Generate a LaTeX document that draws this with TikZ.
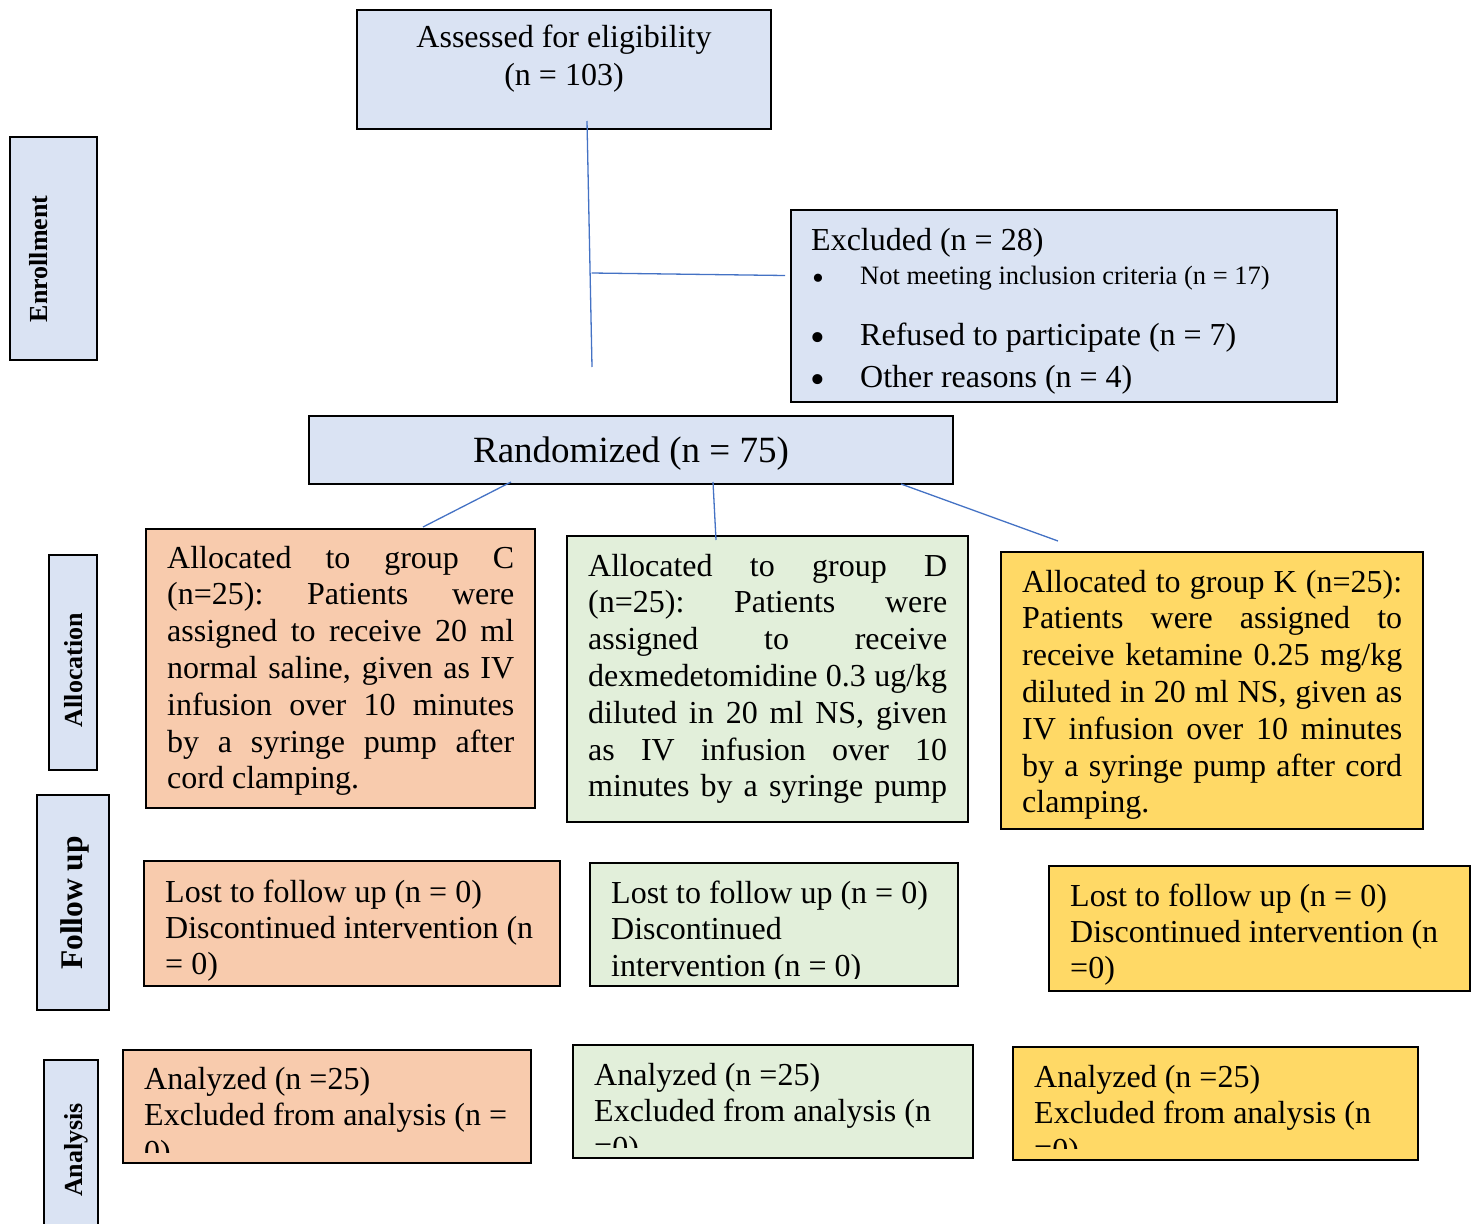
\documentclass[tikz,border=0pt]{standalone}
\usepackage{fontspec}
\setmainfont{Liberation Serif}
\definecolor{bluef}{HTML}{DAE3F3}
\definecolor{orangef}{HTML}{F8CBAD}
\definecolor{greenf}{HTML}{E2EFDA}
\definecolor{goldf}{HTML}{FFD966}
\definecolor{linec}{HTML}{4472C4}
\newcommand\jl[2]{\makebox[#1][s]{\spaceskip=0.25em plus 1fil minus 0.1em\xspaceskip=\spaceskip #2}}
\begin{document}
\begin{tikzpicture}[x=1pt,y=-1pt,
  box/.style={draw=black, line width=1.8pt, inner sep=0pt, outer sep=0pt, anchor=north west},
  conn/.style={draw=linec, line width=1.3pt},
  txt/.style={inner sep=0pt, anchor=base west, align=flush left, text width=430pt, font=\fontsize{32}{36.8}\selectfont},
  ctxt/.style={inner sep=0pt, anchor=base, font=\fontsize{32}{36.8}\selectfont},
  bul/.style={inner sep=0pt, anchor=base, font=\fontsize{42}{44}\selectfont},
  side/.style={inner sep=0pt, rotate=90, anchor=base, font=\fontsize{26}{30}\selectfont\bfseries},
]
\useasboundingbox (0,0) rectangle (1479,1223);

% side boxes
\node[box, fill=bluef, minimum width=87, minimum height=223] (senr) at (10,137) {};
\node[box, fill=bluef, minimum width=48, minimum height=215] (salloc) at (49,555) {};
\node[box, fill=bluef, minimum width=72, minimum height=215] (sfollow) at (37,795) {};
\node[box, fill=bluef, minimum width=54, minimum height=180] (sana) at (44,1060) {};
\node[side] (tenr) at (47,259) {Enrollment};
\node[side] (talloc) at (82,670) {Allocation};
\node[side, font=\fontsize{31.5}{34}\selectfont\bfseries] (tfollow) at (82,903) {Follow up};
\node[side] (tana) at (82,1150) {Analysis};

% enrollment
\node[box, fill=bluef, minimum width=414, minimum height=119] (assess) at (357,10) {};
\node[ctxt] (assess1) at (564,48) {Assessed for eligibility};
\node[ctxt] (assess2) at (564,85) {(n = 103)};

\node[box, fill=bluef, minimum width=546, minimum height=192] (excl) at (791,210) {};
\node[txt] (excl1) at (811,250) {Excluded (n = 28)};
\node[bul, font=\fontsize{34}{36}\selectfont] (b1) at (818,289) {•};
\node[txt, font=\fontsize{26.5}{30}\selectfont] (excl2) at (860,284) {Not meeting inclusion criteria (n = 17)};
\node[bul] (b2) at (818,351) {•};
\node[txt] (excl3) at (860,345) {Refused to participate (n = 7)};
\node[bul] (b3) at (818,393) {•};
\node[txt] (excl4) at (860,387) {Other reasons (n = 4)};

\node[box, fill=bluef, minimum width=644, minimum height=68] (rand) at (309,416) {};
\node[inner sep=0pt, anchor=base, font=\fontsize{37}{40}\selectfont] (randt) at (631,462) {Randomized (n = 75)};

% allocation
\node[box, fill=orangef, minimum width=389, minimum height=279] (gc) at (146,529) {};
\node[txt, text width=347pt] (gct) at (167,568) {\jl{347pt}{Allocated to group C}\\
\jl{347pt}{(n=25): Patients were}\\
\jl{347pt}{assigned to receive 20 ml}\\
\jl{347pt}{normal saline, given as IV}\\
\jl{347pt}{infusion over 10 minutes}\\
\jl{347pt}{by a syringe pump after}\\
cord clamping.};

\node[box, fill=greenf, minimum width=401, minimum height=286] (gd) at (567,536) {};
\node[txt, text width=359pt] (gdt) at (588,576) {\jl{359pt}{Allocated to group D}\\
\jl{359pt}{(n=25): Patients were}\\
\jl{359pt}{assigned to receive}\\
\jl{359pt}{dexmedetomidine 0.3 ug/kg}\\
\jl{359pt}{diluted in 20 ml NS, given}\\
\jl{359pt}{as IV infusion over 10}\\
\jl{359pt}{minutes by a syringe pump}};

\node[box, fill=goldf, minimum width=422, minimum height=277] (gk) at (1001,552) {};
\node[txt, text width=380pt] (gkt) at (1022,592) {\jl{380pt}{Allocated to group K (n=25):}\\
\jl{380pt}{Patients were assigned to}\\
\jl{380pt}{receive ketamine 0.25 mg/kg}\\
\jl{380pt}{diluted in 20 ml NS, given as}\\
\jl{380pt}{IV infusion over 10 minutes}\\
\jl{380pt}{by a syringe pump after cord}\\
clamping.};

% follow up
\node[box, fill=orangef, minimum width=416, minimum height=125] (lc) at (144,861) {};
\node[txt, font=\fontsize{32}{36}\selectfont] (lct) at (165,902) {Lost to follow up (n = 0)\\Discontinued intervention (n\\= 0)};

\node[box, fill=greenf, minimum width=368, minimum height=123] (ld) at (590,863) {};
\begin{scope}
\clip (590,863) rectangle (958,978);
\node[txt, font=\fontsize{32}{36.5}\selectfont] (ldt) at (611,903) {Lost to follow up (n = 0)\\Discontinued\\intervention (n = 0)};
\end{scope}

\node[box, fill=goldf, minimum width=421, minimum height=125] (lk) at (1049,866) {};
\node[txt, font=\fontsize{32}{36}\selectfont] (lkt) at (1070,906) {Lost to follow up (n = 0)\\Discontinued intervention (n\\=0)};

% analysis
\node[box, fill=orangef, minimum width=408, minimum height=113] (ac) at (123,1050) {};
\begin{scope}
\clip (123,1050) rectangle (531,1152);
\node[txt, font=\fontsize{32}{36.8}\selectfont] (act) at (144,1089) {Analyzed (n =25)\\Excluded from analysis (n =\\0)};
\end{scope}

\node[box, fill=greenf, minimum width=400, minimum height=113] (ad) at (573,1045) {};
\begin{scope}
\clip (573,1045) rectangle (973,1147);
\node[txt, font=\fontsize{32}{36.5}\selectfont] (adt) at (594,1085) {Analyzed (n =25)\\Excluded from analysis (n\\=0)};
\end{scope}

\node[box, fill=goldf, minimum width=405, minimum height=113] (ak) at (1013,1047) {};
\begin{scope}
\clip (1013,1047) rectangle (1418,1148);
\node[txt, font=\fontsize{32}{36.5}\selectfont] (akt) at (1034,1087) {Analyzed (n =25)\\Excluded from analysis (n\\=0)};
\end{scope}

% connectors
\coordinate (v1) at (587,121);
\coordinate (v2) at (592,367);
\coordinate (h1) at (591.5,273);
\coordinate (h2) at (785,275.5);
\coordinate (rc) at (511,482);
\coordinate (cc) at (423,527);
\coordinate (rd) at (713,482);
\coordinate (dd) at (716,540);
\coordinate (rk) at (901,484);
\coordinate (kk) at (1058,541);
\draw[conn] (v1) -- (v2);
\draw[conn] (h1) -- (h2);
\draw[conn] (rc) -- (cc);
\draw[conn] (rd) -- (dd);
\draw[conn] (rk) -- (kk);
\end{tikzpicture}
\end{document}
